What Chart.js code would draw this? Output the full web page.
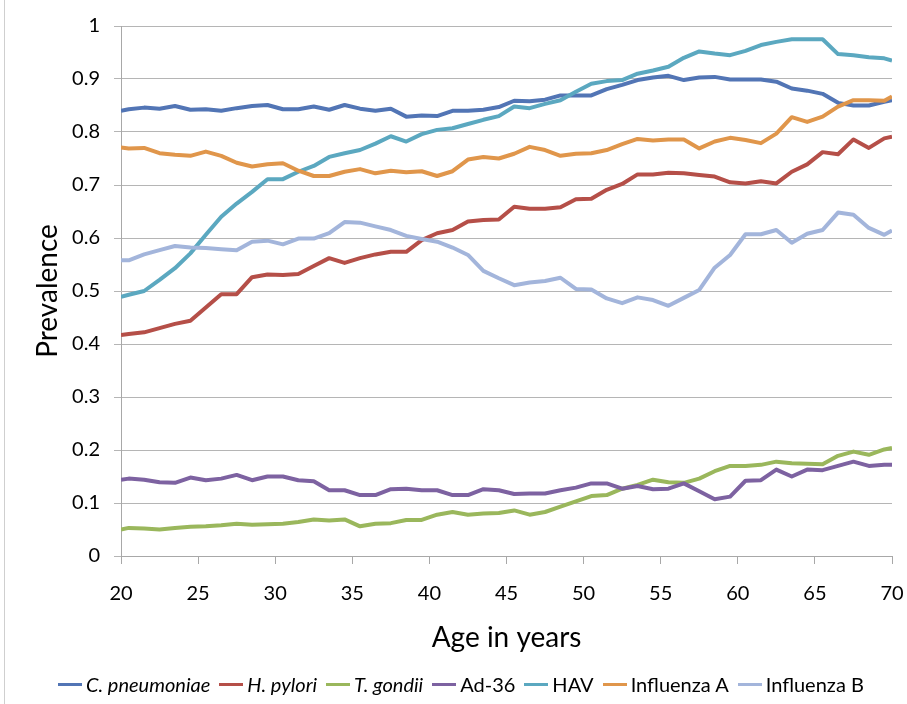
<!DOCTYPE html>
<html><head><meta charset="utf-8">
<script src="https://cdn.jsdelivr.net/npm/chart.js@4.4.1/dist/chart.umd.min.js"></script>
<style>
html,body{margin:0;padding:0;background:#fff;}
#wrap{position:relative;width:907px;height:704px;overflow:hidden;background:#fff;}
#edge{position:absolute;left:4px;top:0;width:1px;height:704px;background:#cfcfcf;}
canvas{position:absolute;left:0;top:0;}
#legend{position:absolute;left:58px;top:671px;display:flex;font-family:Lato,sans-serif;font-size:20px;color:#000;white-space:nowrap;line-height:26px;}
.item{display:flex;align-items:center;margin-right:9px;}
.sw{display:inline-block;width:24px;height:3px;margin-right:4px;}
</style></head>
<body><div id="wrap"><div id="edge"></div><canvas id="c" width="907" height="704"></canvas><div id="legend"></div></div>
<script>
const ages = [20, 20.5, 21.5, 22.5, 23.5, 24.5, 25.5, 26.5, 27.5, 28.5, 29.5, 30.5, 31.5, 32.5, 33.5, 34.5, 35.5, 36.5, 37.5, 38.5, 39.5, 40.5, 41.5, 42.5, 43.5, 44.5, 45.5, 46.5, 47.5, 48.5, 49.5, 50.5, 51.5, 52.5, 53.5, 54.5, 55.5, 56.5, 57.5, 58.5, 59.5, 60.5, 61.5, 62.5, 63.5, 64.5, 65.5, 66.5, 67.5, 68.5, 69.5, 70];

const cPneumoniae = [0.840, 0.843, 0.846, 0.844, 0.849, 0.842, 0.843, 0.840, 0.845, 0.849, 0.851, 0.843, 0.843, 0.848, 0.842, 0.851, 0.844, 0.840, 0.844, 0.829, 0.831, 0.830, 0.840, 0.840, 0.842, 0.847, 0.859, 0.858, 0.861, 0.869, 0.869, 0.869, 0.881, 0.889, 0.898, 0.903, 0.906, 0.898, 0.903, 0.904, 0.899, 0.899, 0.899, 0.895, 0.882, 0.878, 0.872, 0.855, 0.850, 0.850, 0.857, 0.860];
const hPylori = [0.417, 0.419, 0.422, 0.430, 0.438, 0.444, 0.469, 0.494, 0.494, 0.526, 0.531, 0.530, 0.532, 0.547, 0.562, 0.553, 0.562, 0.569, 0.574, 0.574, 0.596, 0.609, 0.615, 0.631, 0.634, 0.635, 0.659, 0.655, 0.655, 0.658, 0.673, 0.674, 0.691, 0.702, 0.720, 0.720, 0.723, 0.722, 0.719, 0.716, 0.705, 0.703, 0.707, 0.703, 0.725, 0.739, 0.762, 0.758, 0.786, 0.770, 0.788, 0.791];
const tGondii = [0.050, 0.053, 0.052, 0.050, 0.053, 0.055, 0.056, 0.058, 0.061, 0.059, 0.060, 0.061, 0.064, 0.069, 0.067, 0.069, 0.056, 0.061, 0.062, 0.068, 0.068, 0.078, 0.083, 0.078, 0.080, 0.081, 0.086, 0.078, 0.083, 0.093, 0.103, 0.113, 0.115, 0.127, 0.134, 0.144, 0.139, 0.138, 0.146, 0.160, 0.170, 0.170, 0.172, 0.178, 0.175, 0.174, 0.173, 0.189, 0.197, 0.191, 0.201, 0.204];
const ad36 = [0.144, 0.146, 0.144, 0.139, 0.138, 0.148, 0.143, 0.146, 0.153, 0.143, 0.150, 0.150, 0.143, 0.141, 0.124, 0.124, 0.115, 0.115, 0.126, 0.127, 0.124, 0.124, 0.115, 0.115, 0.126, 0.124, 0.117, 0.118, 0.118, 0.124, 0.129, 0.137, 0.137, 0.127, 0.132, 0.126, 0.127, 0.137, 0.122, 0.107, 0.112, 0.142, 0.143, 0.163, 0.150, 0.163, 0.162, 0.170, 0.178, 0.170, 0.172, 0.172];
const hav = [0.489, 0.493, 0.500, 0.521, 0.543, 0.571, 0.606, 0.640, 0.665, 0.687, 0.711, 0.711, 0.725, 0.736, 0.753, 0.760, 0.766, 0.778, 0.792, 0.782, 0.796, 0.804, 0.807, 0.815, 0.823, 0.830, 0.848, 0.845, 0.853, 0.860, 0.876, 0.891, 0.896, 0.898, 0.910, 0.916, 0.923, 0.940, 0.952, 0.948, 0.945, 0.953, 0.964, 0.970, 0.975, 0.975, 0.975, 0.947, 0.945, 0.941, 0.939, 0.935];
const influenzaA = [0.771, 0.769, 0.770, 0.760, 0.757, 0.755, 0.763, 0.755, 0.742, 0.735, 0.739, 0.741, 0.727, 0.717, 0.717, 0.725, 0.730, 0.722, 0.727, 0.724, 0.726, 0.717, 0.726, 0.748, 0.753, 0.750, 0.759, 0.772, 0.766, 0.755, 0.759, 0.760, 0.766, 0.777, 0.787, 0.784, 0.786, 0.786, 0.769, 0.782, 0.789, 0.785, 0.779, 0.797, 0.828, 0.819, 0.829, 0.848, 0.860, 0.860, 0.859, 0.867];
const influenzaB = [0.558, 0.558, 0.569, 0.577, 0.585, 0.582, 0.581, 0.579, 0.577, 0.593, 0.595, 0.588, 0.599, 0.599, 0.609, 0.630, 0.629, 0.622, 0.615, 0.604, 0.598, 0.593, 0.582, 0.568, 0.538, 0.524, 0.511, 0.516, 0.519, 0.525, 0.504, 0.503, 0.486, 0.477, 0.488, 0.483, 0.472, 0.487, 0.502, 0.544, 0.568, 0.607, 0.607, 0.615, 0.591, 0.608, 0.615, 0.648, 0.644, 0.619, 0.606, 0.614];

const seriesNames = ['C. pneumoniae', 'H. pylori', 'T. gondii', 'Ad-36', 'HAV', 'Influenza A', 'Influenza B'];
const seriesItalic = [true, true, true, false, false, false, false];
const seriesValues = [cPneumoniae, hPylori, tGondii, ad36, hav, influenzaA, influenzaB];
const seriesColors = ['#5275B5', '#B54F48', '#9AB75C', '#7D62A1', '#5BA8C0', '#E0964B', '#A3B5DB'];

const xTitle = 'Age in years';
const yTitle = 'Prevalence';

const datasets = seriesNames.map((name, i) => ({
  label: name,
  data: ages.map((a, j) => ({x: a, y: seriesValues[i][j]})),
  borderColor: seriesColors[i],
  backgroundColor: seriesColors[i],
  borderWidth: 4,
  pointRadius: 0,
  tension: 0,
  fill: false,
  borderJoinStyle: 'round',
  order: seriesNames.length - i
}));

new Chart(document.getElementById('c'), {
  type: 'line',
  data: {datasets},
  options: {
    responsive: false,
    animation: false,
    devicePixelRatio: 1,
    layout: {padding: {left: 0, right: 15, top: 26, bottom: 48}},
    plugins: {legend: {display: false}, tooltip: {enabled: false}},
    scales: {
      x: {
        type: 'linear', min: 20, max: 70,
        afterFit: s => { s.height = 100; s.paddingLeft = 0; s.paddingRight = 0; },
        ticks: {stepSize: 5, color: '#000', font: {family: 'Lato', size: 20}, padding: 18, maxRotation: 0},
        grid: {drawOnChartArea: false, drawTicks: true, tickLength: 8, color: '#A8A8A8', lineWidth: 1},
        border: {color: '#A8A8A8', width: 1},
        title: {display: true, text: xTitle, color: '#000', font: {family: 'Lato', size: 28}, padding: {top: 0, bottom: 1}}
      },
      y: {
        min: 0, max: 1,
        afterFit: s => { s.width = 121; s.paddingTop = 0; s.paddingBottom = 0; },
        ticks: {stepSize: 0.1, color: '#000', font: {family: 'Lato', size: 20}, padding: 14,
          callback: v => String(Math.round(v * 10) / 10)},
        grid: {color: '#B5B5B5', lineWidth: 1, drawTicks: true, tickLength: 7},
        border: {color: '#A8A8A8', width: 1},
        title: {display: true, text: yTitle, color: '#000', font: {family: 'Lato', size: 28}, padding: {top: 31, bottom: 0}}
      }
    }
  }
});

const leg = document.getElementById('legend');
seriesNames.forEach((name, i) => {
  const it = document.createElement('div');
  it.className = 'item';
  const sw = document.createElement('span');
  sw.className = 'sw';
  sw.style.background = seriesColors[i];
  const tx = document.createElement('span');
  tx.textContent = name;
  if (seriesItalic[i]) tx.style.fontStyle = 'italic';
  it.appendChild(sw); it.appendChild(tx);
  leg.appendChild(it);
});
</script>
</body></html>
